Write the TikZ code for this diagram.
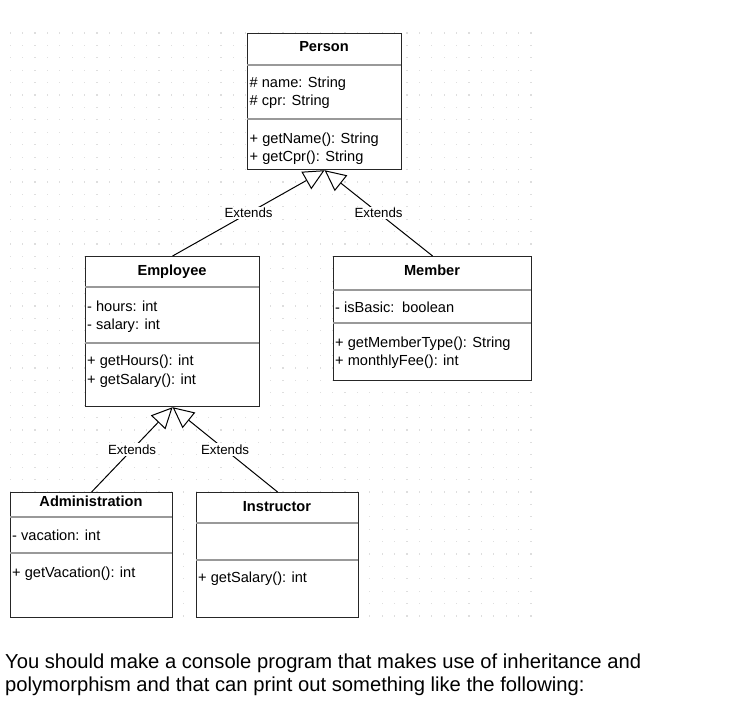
\documentclass[tikz,border=0pt]{standalone}
\usepackage{fontspec}
\setmainfont{Liberation Sans}
\usetikzlibrary{arrows.meta}
\begin{document}
\begin{tikzpicture}[x=1pt,y=-1pt,
  classbox/.style={draw=black!85, line width=1.2pt, fill=white, anchor=north west, inner sep=0pt},
  sepline/.style={draw=black!40, line width=1.2pt},
  headtext/.style={anchor=base, inner sep=0pt, font=\fontsize{14.6}{17}\selectfont\bfseries},
  membertext/.style={anchor=base west, inner sep=0pt, font=\fontsize{14.6}{17}\selectfont},
  extlabel/.style={fill=white, inner sep=1.5pt, font=\fontsize{13.3}{16}\selectfont},
  extends/.style={line width=1pt, -{Triangle[length=21pt, width=20pt, fill=white]}},
  griddot/.style={fill=black!13}]
\useasboundingbox (0,0) rectangle (756,701);
\foreach \i in {0,...,42}
  \foreach \j in {0,...,47}
    \fill[griddot] (9.5+\i*12.4,32.5+\j*12.4) rectangle ++(1.2,1.2);

\node[classbox, minimum width=154pt, minimum height=136pt] (person) at (247,33){};
\draw[sepline] (247,65) -- (401,65);
\draw[sepline] (247,119) -- (401,119);
\node[headtext] (personname) at (324,52){Person};
\node[membertext] (personattr1) at (249.5,88){\# name: String};
\node[membertext] (personattr2) at (249.5,106){\# cpr: String};
\node[membertext] (personop1) at (249.5,143){+ getName(): String};
\node[membertext] (personop2) at (249.5,161){+ getCpr(): String};

\node[classbox, minimum width=174pt, minimum height=150pt] (employee) at (85,256){};
\draw[sepline] (85,287) -- (259,287);
\draw[sepline] (85,343) -- (259,343);
\node[headtext] (employeename) at (172,275){Employee};
\node[membertext] (employeeattr1) at (87,311){- hours: int};
\node[membertext] (employeeattr2) at (87,329.5){- salary: int};
\node[membertext] (employeeop1) at (87,365.5){+ getHours(): int};
\node[membertext] (employeeop2) at (87,384){+ getSalary(): int};

\node[classbox, minimum width=198pt, minimum height=124pt] (member) at (333,256){};
\draw[sepline] (333,290) -- (531,290);
\draw[sepline] (333,323) -- (531,323);
\node[headtext] (membername) at (432,275){Member};
\node[membertext] (memberattr1) at (335,312){- isBasic:\, boolean};
\node[membertext] (memberop1) at (335,347){+ getMemberType(): String};
\node[membertext] (memberop2) at (335,365.5){+ monthlyFee(): int};

\node[classbox, minimum width=162pt, minimum height=125pt] (admin) at (10,492){};
\draw[sepline] (10,517) -- (172,517);
\draw[sepline] (10,553) -- (172,553);
\node[headtext] (adminname) at (91,506){Administration};
\node[membertext] (adminattr1) at (12,540.5){- vacation: int};
\node[membertext] (adminop1) at (12,577){+ getVacation(): int};

\node[classbox, minimum width=162pt, minimum height=125pt] (instructor) at (196,492){};
\draw[sepline] (196,523) -- (358,523);
\draw[sepline] (196,560) -- (358,560);
\node[headtext] (instructorname) at (277,511.5){Instructor};
\node[membertext] (instructorop1) at (198,582.5){+ getSalary(): int};

\draw[extends] (employee.north) -- node[extlabel]{Extends} (person.south);
\draw[extends] (member.north) -- node[extlabel]{Extends} (person.south);
\draw[extends] (admin.north) -- node[extlabel]{Extends} (employee.south);
\draw[extends] (instructor.north) -- node[extlabel]{Extends} (employee.south);

\node[membertext, font=\fontsize{20.2}{23}\selectfont] (task1) at (5,668){You should make a console program that makes use of inheritance and};
\node[membertext, font=\fontsize{20.2}{23}\selectfont] (task2) at (5,691){polymorphism and that can print out something like the following:};
\end{tikzpicture}
\end{document}
